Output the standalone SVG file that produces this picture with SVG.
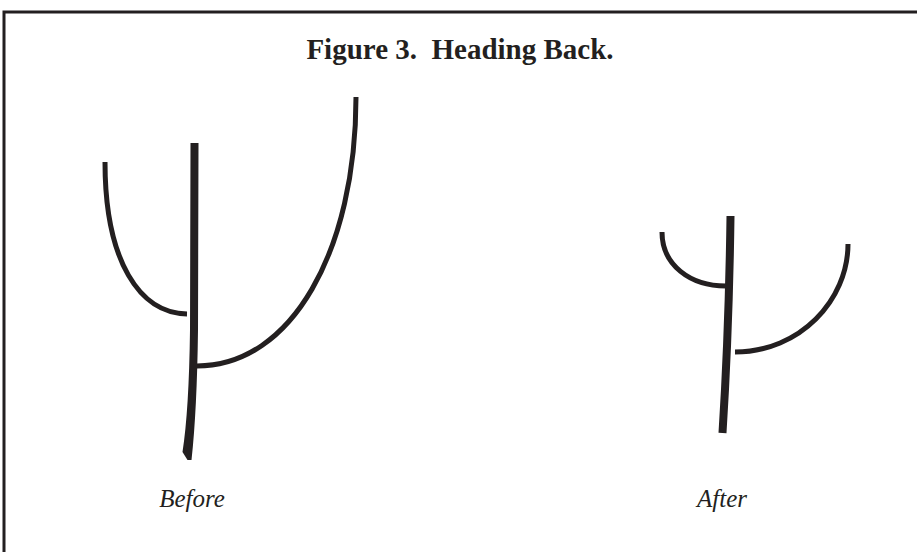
<svg xmlns="http://www.w3.org/2000/svg" width="917" height="552" viewBox="0 0 917 552">
<style>
.ink{fill:none;stroke:#231f20;stroke-linecap:butt}
.trunk{stroke-width:8}
.br{stroke-width:5}
.title{font-family:"Liberation Serif","Times New Roman",serif;font-weight:bold;font-size:29px;fill:#231f20;white-space:pre}
.lbl{font-family:"Liberation Serif","Times New Roman",serif;font-style:italic;font-size:25px;fill:#231f20}
</style>
<rect width="917" height="552" fill="#fff"/>
<path d="M4,560 V12 H925" fill="none" stroke="#231f20" stroke-width="3"/>
<text class="title" x="460" y="59" text-anchor="middle" xml:space="preserve">Figure 3.  Heading Back.</text>
<g id="before">
<path d="M190.5,143 L198.5,143 L198,330 Q197,410 191.5,460 L187.5,460 L182.5,452 Q189,410 190,330 Z" fill="#231f20"/>
<path class="ink br" d="M105,162 C105,262 140,313 187,314"/>
<path class="ink br" d="M356,97 C356,250 292,366 197,366"/>
<text class="lbl" x="192" y="507" text-anchor="middle">Before</text>
</g>
<g id="after">
<path class="ink trunk" d="M730.5,216 Q729,330 722.5,433"/>
<path class="ink br" d="M662,232 C662,265 690,286 726,286"/>
<path class="ink br" d="M848,244 C848,300 800,352 735,352"/>
<text class="lbl" x="722" y="507" text-anchor="middle">After</text>
</g>
</svg>
